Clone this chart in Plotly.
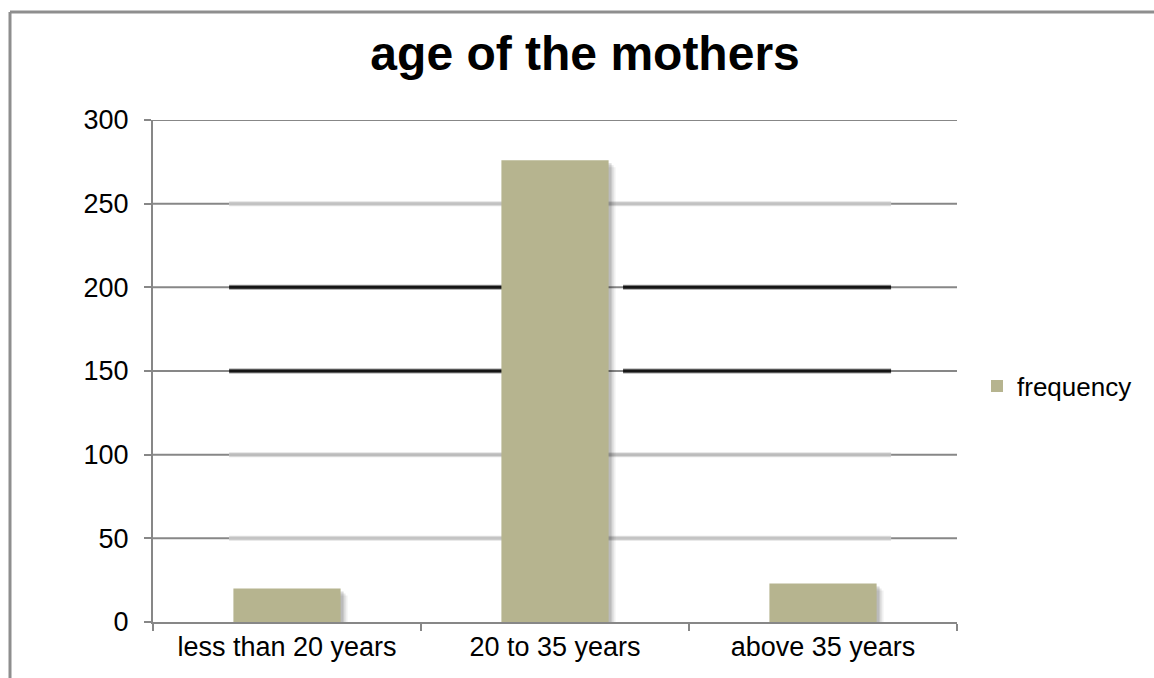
import plotly.graph_objects as go

# Survey counts by age group of the mother
categories = ["less than 20 years", "20 to 35 years", "above 35 years"]
frequency = [20, 276, 23]
y_ticks = [0, 50, 100, 150, 200, 250, 300]

# Styling constants
BAR_COLOR = "#b6b48f"
AXIS_GRAY = "#878787"
FONT = "Liberation Sans, Arial, sans-serif"
BAR_WIDTH = 0.4
PX_PER_CAT = 268.0
PX_PER_UNIT = 502.0 / 300.0

W, H = 1154, 678
ML, MR, MT, MB = 153, 197, 120, 56
PW, PH = W - ML - MR, H - MT - MB

fig = go.Figure()

# Soft drop shadow to the lower right of each bar
for k, alpha in [(7, 0.06), (5, 0.09), (3, 0.14)]:
    fig.add_trace(go.Bar(
        x=categories,
        y=[v - k / PX_PER_UNIT for v in frequency],
        width=BAR_WIDTH,
        offset=-BAR_WIDTH / 2 + k / PX_PER_CAT,
        marker=dict(color=f"rgba(0,0,0,{alpha})", line=dict(width=0)),
        showlegend=False,
        hoverinfo="skip",
    ))

fig.add_trace(go.Bar(
    x=categories,
    y=frequency,
    name="frequency",
    width=BAR_WIDTH,
    offset=-BAR_WIDTH / 2,
    marker=dict(color=BAR_COLOR, line=dict(width=0)),
))

shapes = []
# Base gridlines across the full plot width
for t in y_ticks[1:]:
    shapes.append(dict(type="line", xref="paper", yref="y", x0=0, x1=1, y0=t, y1=t,
                       line=dict(color=AXIS_GRAY, width=2), layer="below"))

# Inner gridline band with heavier / lighter rules
inner_l, inner_r = -0.216, 2.254
mid_gap_l, mid_gap_r = 1.0, 1.254
light = {250: "#c2c2c2", 100: "#bcbcbc", 50: "#c4c4c4"}
dark = {200: "#151515", 150: "#151515"}
for t, c in light.items():
    shapes.append(dict(type="line", xref="x", yref="y", x0=inner_l, x1=inner_r, y0=t, y1=t,
                       line=dict(color="#e2e2e2", width=5), layer="below"))
    shapes.append(dict(type="line", xref="x", yref="y", x0=inner_l, x1=inner_r, y0=t, y1=t,
                       line=dict(color=c, width=3), layer="below"))
for t, c in dark.items():
    for a, b in [(inner_l, mid_gap_l), (mid_gap_r, inner_r)]:
        shapes.append(dict(type="line", xref="x", yref="y", x0=a, x1=b, y0=t, y1=t,
                           line=dict(color="#9a9a9a", width=5), layer="below"))
        shapes.append(dict(type="line", xref="x", yref="y", x0=a, x1=b, y0=t, y1=t,
                           line=dict(color=c, width=3), layer="below"))

# Outer chart frame (left and top edges)
fx = (10 - ML) / PW
fy_top = (H - MB - 12) / PH
fy_bot = (H - MB - (H + 10)) / PH
fx_right = (W + 10 - ML) / PW
shapes.append(dict(type="line", xref="paper", yref="paper", x0=fx, x1=fx, y0=fy_bot, y1=fy_top,
                   line=dict(color="#8e8e8e", width=3)))
shapes.append(dict(type="line", xref="paper", yref="paper", x0=fx, x1=fx_right, y0=fy_top, y1=fy_top,
                   line=dict(color="#8e8e8e", width=3)))

fig.update_layout(
    width=W, height=H,
    margin=dict(l=ML, r=MR, t=MT, b=MB, pad=0, autoexpand=False),
    paper_bgcolor="white",
    plot_bgcolor="white",
    barmode="overlay",
    font=dict(family=FONT, size=27, color="#000000"),
    title=dict(text="<b>age of the mothers</b>", x=0.507, xanchor="center",
               y=1 - 53 / H, yanchor="middle", yref="container",
               font=dict(family=FONT, size=48, color="#000000")),
    legend=dict(x=(977 - ML) / PW, xanchor="left", y=(H - MB - 386) / PH, yanchor="middle",
                font=dict(family=FONT, size=26), bgcolor="rgba(0,0,0,0)",
                itemwidth=30),
    shapes=shapes,
    xaxis=dict(
        type="category",
        showgrid=False,
        showline=True, linecolor=AXIS_GRAY, linewidth=2,
        ticks="outside", tickson="boundaries", ticklen=7, tickwidth=2, tickcolor=AXIS_GRAY,
        tickfont=dict(family=FONT, size=27),
        range=[-0.5, 2.5],
        fixedrange=True,
    ),
    yaxis=dict(
        range=[0, 300],
        tickvals=y_ticks,
        showgrid=False,
        zeroline=False,
        showline=True, linecolor=AXIS_GRAY, linewidth=2,
        ticks="outside", ticklen=7, tickwidth=2, tickcolor=AXIS_GRAY,
        ticklabelstandoff=10,
        tickfont=dict(family=FONT, size=27),
        fixedrange=True,
    ),
)

fig.write_html("out.html")
